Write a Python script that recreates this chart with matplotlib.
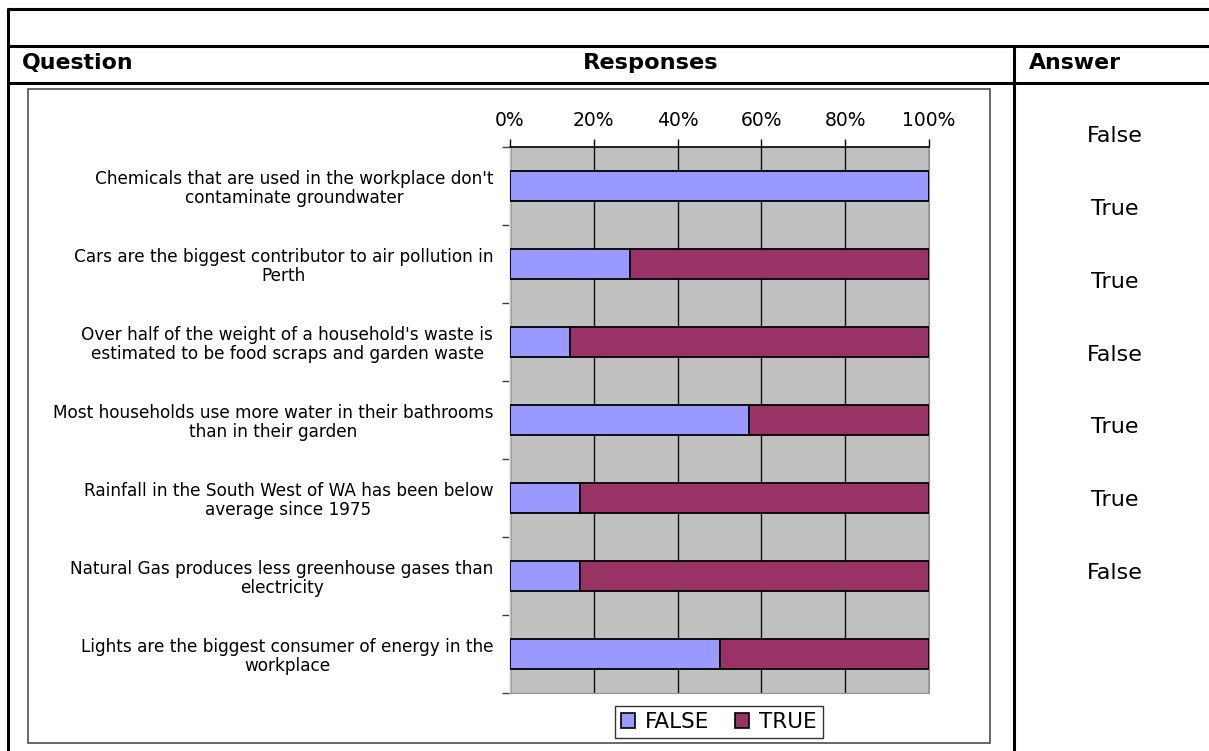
import matplotlib
matplotlib.use("Agg")
import matplotlib.pyplot as plt
from matplotlib.lines import Line2D
from matplotlib.patches import Rectangle, Patch
import numpy as np

plt.rcParams['font.family'] = ['DejaVu Sans']

questions = [
    "Chemicals that are used in the workplace don't\ncontaminate groundwater",
    "Cars are the biggest contributor to air pollution in\nPerth",
    "Over half of the weight of a household's waste is\nestimated to be food scraps and garden waste",
    "Most households use more water in their bathrooms\nthan in their garden",
    "Rainfall in the South West of WA has been below\naverage since 1975",
    "Natural Gas produces less greenhouse gases than\nelectricity",
    "Lights are the biggest consumer of energy in the\nworkplace",
]
false_pct = [100.0, 28.6, 14.3, 57.1, 16.7, 16.7, 50.0]
true_pct = [0.0, 71.4, 85.7, 42.9, 83.3, 83.3, 50.0]
answers = ["False", "True", "True", "False", "True", "True", "False"]
x_ticks = [0, 20, 40, 60, 80, 100]
x_tick_labels = ["0%", "20%", "40%", "60%", "80%", "100%"]
headers = ["Question", "Responses", "Answer"]
series_names = ["FALSE", "TRUE"]

W, H = 1209, 751
fig = plt.figure(figsize=(W / 100, H / 100), dpi=100)
fig.patch.set_facecolor("white")


def fx(x):
    return x / W


def fy(y):
    return 1 - y / H


def hline(x0, x1, y, lw=2.2, color="black"):
    fig.add_artist(Line2D([fx(x0), fx(x1)], [fy(y), fy(y)], transform=fig.transFigure,
                          color=color, lw=lw, solid_capstyle="butt"))


def vline(x, y0, y1, lw=2.2, color="black"):
    fig.add_artist(Line2D([fx(x), fx(x)], [fy(y0), fy(y1)], transform=fig.transFigure,
                          color=color, lw=lw, solid_capstyle="butt"))


# Table frame
hline(7, W + 5, 9)
hline(7, W + 5, 46)
hline(7, W + 5, 82.5)
vline(7.5, 8, H + 5)
vline(1014, 46, H + 5)

# Header texts
fig.text(fx(22), fy(63), headers[0], fontsize=15.8, fontweight="bold", ha="left", va="center")
fig.text(fx(651), fy(63), headers[1], fontsize=16.2, fontweight="bold", ha="center", va="center")
fig.text(fx(1029), fy(63), headers[2], fontsize=15.8, fontweight="bold", ha="left", va="center")

# Chart box
fig.add_artist(Rectangle((fx(28), fy(743)), fx(990) - fx(28), fy(89) - fy(743),
                         transform=fig.transFigure, fill=False, edgecolor="#404040", lw=1.1))

# Answers column
ans_y0, ans_step = 136.5, 72.7
for i, a in enumerate(answers):
    fig.text(fx(1115), fy(ans_y0 + i * ans_step), a, fontsize=16, ha="center", va="center")

# Chart axes
ax_l, ax_r, ax_t, ax_b = 510, 929, 146.7, 692.7
ax = fig.add_axes([fx(ax_l), fy(ax_b), fx(ax_r) - fx(ax_l), fy(ax_t) - fy(ax_b)])
ax.set_facecolor("#C0C0C0")

y = np.arange(len(questions))
bh = 0.385
ax.barh(y, false_pct, height=bh, color="#9999FF", edgecolor="black", linewidth=1.3,
        label=series_names[0], zorder=3)
ax.barh(y, true_pct, left=false_pct, height=bh, color="#993366", edgecolor="black",
        linewidth=1.3, label=series_names[1], zorder=3)

ax.set_xlim(0, 100)
ax.set_ylim(len(questions) - 0.5, -0.5)

ax.xaxis.set_ticks_position("top")
ax.xaxis.set_label_position("top")
ax.set_xticks(x_ticks)
ax.set_xticklabels(x_tick_labels, fontsize=13.5)
ax.tick_params(axis="x", which="major", direction="out", length=6, width=1, color="black", pad=6)
ax.grid(axis="x", color="#101010", linewidth=1, zorder=1)
ax.set_axisbelow(True)

# y ticks: marks at category boundaries, labels at centres
ax.set_yticks(np.arange(len(questions) + 1) - 0.5)
ax.set_yticklabels([])
ax.tick_params(axis="y", which="major", direction="out", length=6, width=1, color="#404040")
ax.set_yticks(y, minor=True)
ax.set_yticklabels(questions, minor=True, fontsize=12.2)
ax.tick_params(axis="y", which="minor", length=0, pad=12)
for lab in ax.get_yticklabels(minor=True):
    lab.set_multialignment("center")
    lab.set_linespacing(1.1)

ax.spines["top"].set_color("black")
ax.spines["top"].set_linewidth(1.2)
ax.spines["left"].set_color("#E8E8E8")
ax.spines["left"].set_linewidth(1.2)
ax.spines["right"].set_color("#909090")
ax.spines["bottom"].set_color("#909090")

handles = [Patch(facecolor="#9999FF", edgecolor="black", lw=1.2),
           Patch(facecolor="#993366", edgecolor="black", lw=1.2)]
leg = fig.legend(handles, series_names, loc="center", bbox_to_anchor=(fx(719), fy(722)),
                 ncol=2, fontsize=15.5, frameon=True, fancybox=False, edgecolor="black",
                 handlelength=0.65, handleheight=0.65, handletextpad=0.45, columnspacing=1.2,
                 borderpad=0.3, borderaxespad=0)
leg.get_frame().set_linewidth(1.0)

fig.savefig("out.png", dpi=100, facecolor="white")
